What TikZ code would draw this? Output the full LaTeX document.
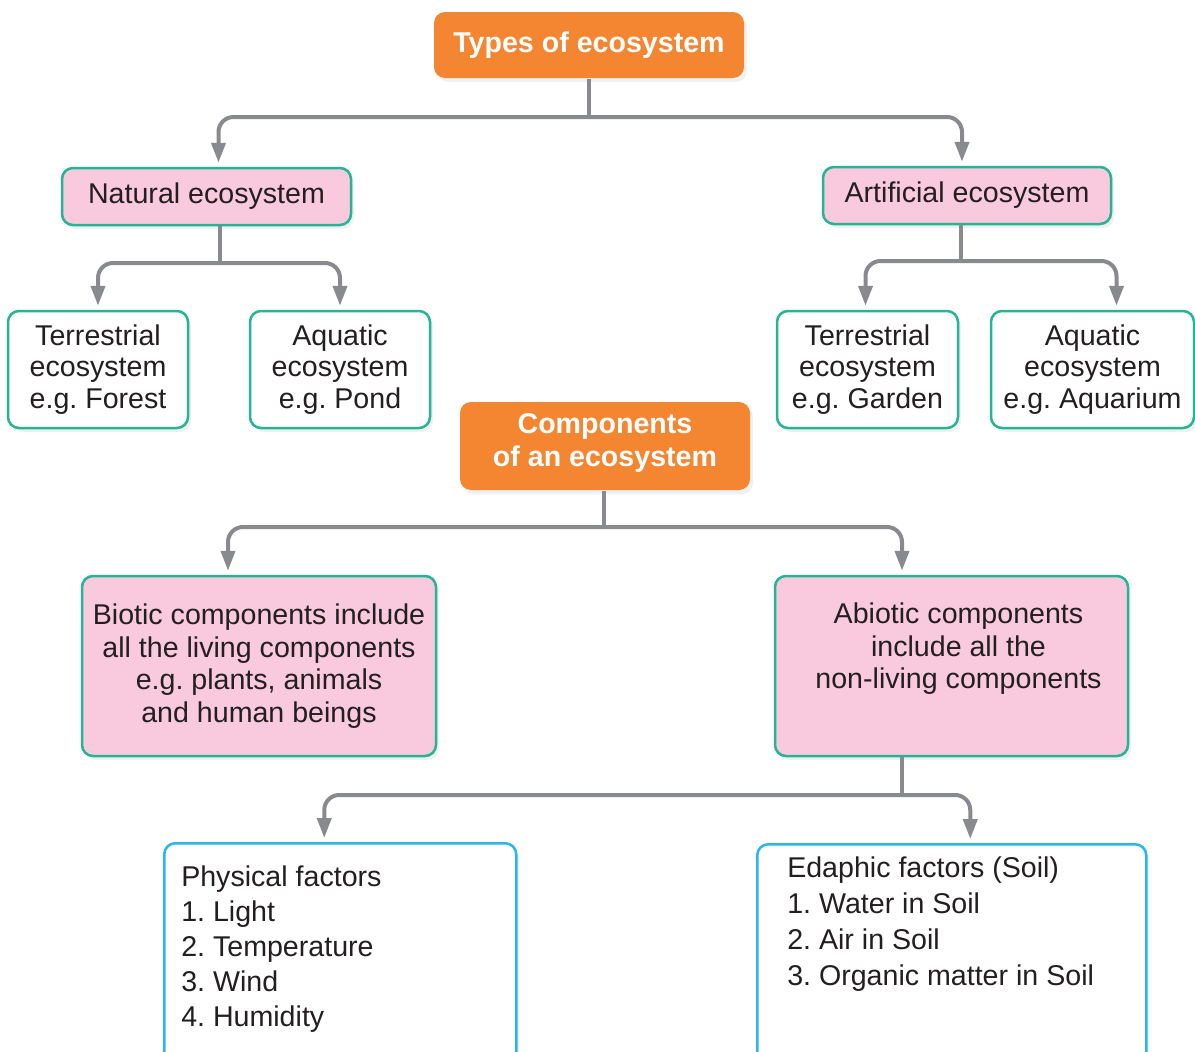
\documentclass[tikz,border=0pt]{standalone}
\usepackage{fontspec}
\setmainfont{Liberation Sans}
\usetikzlibrary{arrows.meta,shadows}
\definecolor{ecoorange}{RGB}{244,134,50}
\definecolor{ecopink}{RGB}{249,201,221}
\definecolor{ecoteal}{RGB}{36,180,150}
\definecolor{ecoblue}{RGB}{40,182,235}
\definecolor{ecogray}{RGB}{136,138,141}
\definecolor{ecotext}{RGB}{35,31,32}
\frenchspacing
\begin{document}
\begin{tikzpicture}[x=1pt,y=-1pt,
    box/.style={rounded corners=11pt, line width=2.5pt, align=center, text=ecotext,
        font=\fontsize{28.6}{32.5}\selectfont, inner sep=0pt,
        drop shadow={shadow xshift=3pt, shadow yshift=-4pt, opacity=0.12}},
    headbox/.style={box, fill=ecoorange, text=white,
        font=\fontsize{28.6}{33}\selectfont\bfseries},
    pinkbox/.style={box, fill=ecopink, draw=ecoteal},
    whitebox/.style={box, fill=white, draw=ecoteal,
        font=\fontsize{28.6}{31.5}\selectfont},
    listbox/.style={box, fill=white, draw=ecoblue, align=left,
        font=\fontsize{28.6}{35}\selectfont},
    link/.style={draw=ecogray, line width=4pt},
    arrow/.style={link, rounded corners=15pt, shorten >=4pt,
        -{Triangle[width=14pt,length=20pt]}}]
            \useasboundingbox (0,0) rectangle (1195,1052);
            \node[headbox, minimum width=310pt, minimum height=66pt] (types) at (589,45) {Types of ecosystem};
            \node[pinkbox, minimum width=289pt, minimum height=57pt] (natural) at (206.5,196.5) {Natural ecosystem};
            \node[pinkbox, minimum width=288pt, minimum height=57pt] (artificial) at (967,195.5) {Artificial ecosystem};
            \node[whitebox, minimum width=180pt, minimum height=117pt] (tforest) at (98,369.5) {Terrestrial\\ecosystem\\e.g. Forest};
            \node[whitebox, minimum width=180pt, minimum height=117pt] (apond) at (340,369.5) {Aquatic\\ecosystem\\e.g. Pond};
            \node[whitebox, minimum width=181pt, minimum height=117pt] (tgarden) at (867.5,369.5) {Terrestrial\\ecosystem\\e.g. Garden};
            \node[whitebox, minimum width=203pt, minimum height=117pt] (aaquarium) at (1092.5,369.5) {Aquatic\\ecosystem\\e.g. Aquarium};
            \node[headbox, minimum width=290pt, minimum height=88pt, inner ysep=12pt] (comp) at (605,446) {\parbox[c][64pt][t]{280pt}{\centering Components\\of an ecosystem}};
            \node[pinkbox, minimum width=354pt, minimum height=180pt, font=\fontsize{28.6}{32.7}\selectfont] (biotic) at (259,666) {Biotic components include\\all the living components\\e.g. plants, animals\\and human beings};
            \node[pinkbox, minimum width=353pt, inner ysep=27pt] (abiotic) at (951.5,666) {\hspace*{14pt}\parbox[c][126pt][t]{330pt}{\centering Abiotic components\\include all the\\non-living components}};
            \node[listbox, inner xsep=17pt, inner ysep=23pt, anchor=north west] (physical) at (163,842) {\parbox[c][174pt][t]{318pt}{\raggedright Physical factors\\1. Light\\2. Temperature\\3. Wind\\4. Humidity}};
            \node[listbox, inner xsep=30pt, inner ysep=13pt, anchor=north west, font=\fontsize{28.6}{36}\selectfont] (edaphic) at (756,843) {\parbox[c][193pt][t]{329pt}{\raggedright Edaphic factors (Soil)\\1. Water in Soil\\2. Air in Soil\\3. Organic matter in Soil}};
            \coordinate (jt) at (589,117);
            \draw[link] (types) -- (jt);
            \draw[arrow] (jt) -| ([xshift=12pt]natural.north);
            \draw[arrow] (jt) -| ([xshift=-5pt]artificial.north);
            \coordinate (jn) at (220,263);
            \draw[link] (natural.south -| jn) -- (jn);
            \draw[arrow] (jn) -| (tforest.north);
            \draw[arrow] (jn) -| (apond.north);
            \coordinate (ja) at (961,261);
            \draw[link] (artificial.south -| ja) -- (ja);
            \draw[arrow] (ja) -| ([xshift=-2pt]tgarden.north);
            \draw[arrow] (ja) -| ([xshift=24pt]aaquarium.north);
            \coordinate (jc) at (604,527);
            \draw[link] (comp.south -| jc) -- (jc);
            \draw[arrow] (jc) -| ([xshift=-31pt]biotic.north);
            \draw[arrow] (jc) -| ([xshift=-49.5pt]abiotic.north);
            \coordinate (jb) at (902,795);
            \draw[link] (abiotic.south -| jb) -- (jb);
            \draw[arrow] (jb) -| ([xshift=-16pt]physical.north);
            \draw[arrow] (jb) -| ([xshift=18.5pt]edaphic.north);
\end{tikzpicture}
\end{document}
